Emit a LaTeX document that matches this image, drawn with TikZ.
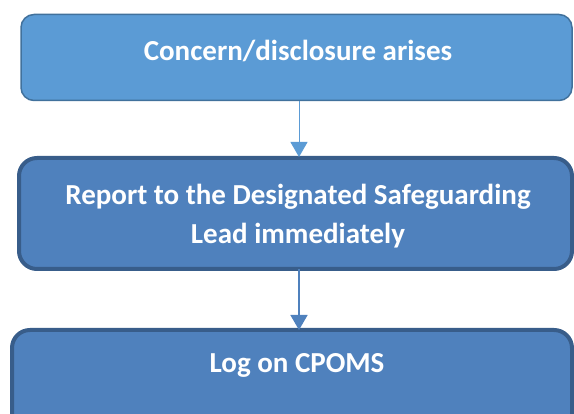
\documentclass[tikz,border=0pt]{standalone}
\usepackage{fontspec}
\setmainfont{Carlito}
\usetikzlibrary{arrows.meta}
\definecolor{fillA}{HTML}{5B9BD5}
\definecolor{lineA}{HTML}{41719C}
\definecolor{fillB}{HTML}{4F81BD}
\definecolor{lineB}{HTML}{385D8A}
\begin{document}
\begin{tikzpicture}[x=1pt,y=-1pt,
  boxA/.style={draw=lineA,fill=fillA,line width=1.5pt,rounded corners=13pt,rectangle,inner sep=0pt},
  boxB/.style={draw=lineB,fill=fillB,line width=4pt,rounded corners=18pt,rectangle,inner sep=0pt},
  label/.style={text=white,font=\fontsize{29}{39}\selectfont\bfseries,align=center,inner sep=0pt},
  arrA/.style={draw=fillA,line width=1pt,-{Triangle[width=17pt,length=15pt]}},
  arrB/.style={draw=fillB,line width=1.5pt,-{Triangle[width=17pt,length=15pt]}}]
\useasboundingbox (0,0) rectangle (574,414);
\clip (0,0) rectangle (574,414);
\node[boxA,minimum width=551pt,minimum height=86pt] (b1) at (296.5,57.5) {};
\node[boxB,minimum width=553pt,minimum height=111pt] (b2) at (295.5,213.5) {};
\node[boxB,minimum width=560pt,minimum height=120pt] (b3) at (292,390) {};
\node[label] (t1) at (298,51) {Concern/disclosure arises};
\node[label] (t2) at (298,216) {Report to the Designated Safeguarding\\Lead immediately};
\node[label] (t3) at (297,365) {Log on CPOMS};
\coordinate (ax) at (299,0);
\draw[arrA] (b1.south -| ax) -- ([yshift=-1pt]b2.north -| ax);
\draw[arrB] ([yshift=2pt]b2.south -| ax) -- ([yshift=-2pt]b3.north -| ax);
\end{tikzpicture}
\end{document}
